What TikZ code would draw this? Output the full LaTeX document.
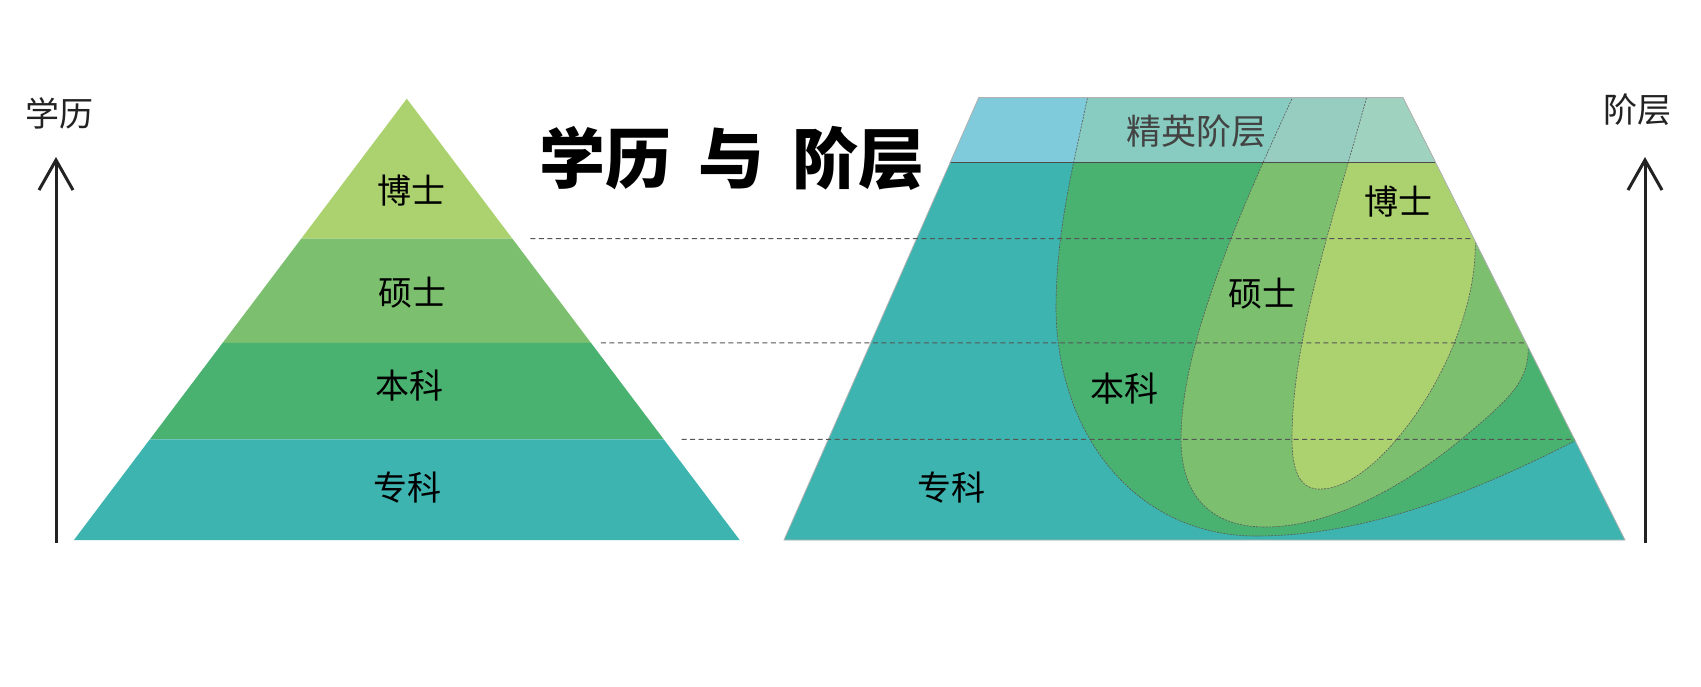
\documentclass[tikz,border=0pt]{standalone}
\usepackage{fontspec}
\newfontfamily\cjk{Noto Sans CJK SC}
\usetikzlibrary{calc,arrows.meta}
\definecolor{bsC}{HTML}{ACD270}
\definecolor{ssC}{HTML}{7BBF6F}
\definecolor{bkC}{HTML}{4AB270}
\definecolor{zkC}{HTML}{3DB4AF}
\definecolor{bsT}{HTML}{A0D2C0}
\definecolor{ssT}{HTML}{96CDC0}
\definecolor{bkT}{HTML}{88CBC0}
\definecolor{zkT}{HTML}{80CBDB}
\definecolor{inkC}{HTML}{222222}
\definecolor{guideC}{HTML}{555555}
\newcommand{\bkcurve}{(1093,70) .. controls (1078,150) and (1056,220) .. (1056,310) .. controls (1058,440) and (1140,536) .. (1256,536) .. controls (1380,536) and (1500,480) .. (1600,428)}
\newcommand{\sscurve}{(1305,70) .. controls (1260,170) and (1181,330) .. (1181,439) .. controls (1181,500) and (1215,527) .. (1265,527) .. controls (1340,527) and (1420,475) .. (1470,432) .. controls (1510,398) and (1530,380) .. (1528,345) -- (1560,300)}
\newcommand{\bscurve}{(1374,70) .. controls (1340,200) and (1292,330) .. (1292,439) .. controls (1292,480) and (1305,490) .. (1322,489) .. controls (1380,487) and (1470,360) .. (1475,255) .. controls (1476,230) .. (1470,215) -- (1480,190)}
\begin{document}
\begin{tikzpicture}[x=1pt,y=-1pt,
  lbl/.style={font=\cjk\fontsize{34}{34}\selectfont, text=black, inner sep=0pt},
  axislbl/.style={font=\cjk\fontsize{34}{34}\selectfont, text=inkC, inner sep=0pt},
  axisarrow/.style={draw=inkC, line width=3pt, -{Straight Barb[length=30pt,width=34pt,line width=3pt]}},
  guide/.style={draw=guideC, line width=1pt, dash pattern=on 5pt off 3.5pt},
  bound/.style={draw=black!65, line width=0.6pt, dash pattern=on 2pt off 1.2pt},
]
\fill[white] (0,0) rectangle (1701,686);
\useasboundingbox (0,0) rectangle (1701,686);

% axes
\coordinate (axL0) at (56,543);
\coordinate (axL1) at (56,157);
\coordinate (axR0) at (1645,543);
\coordinate (axR1) at (1645,157);
\draw[axisarrow] (axL0) -- (axL1);
\draw[axisarrow] (axR0) -- (axR1);
\node[axislbl] (xueli) at (59.5,113) {学历};
\node[axislbl] (jieceng) at (1637,110) {阶层};

% left pyramid
\coordinate (pA) at (406.8,98.7);
\coordinate (pL) at (73.8,540.2);
\coordinate (pR) at (739.8,540.2);
\coordinate (pL1) at ($(pA)!0.3171!(pL)$);
\coordinate (pR1) at ($(pA)!0.3171!(pR)$);
\coordinate (pL2) at ($(pA)!0.5529!(pL)$);
\coordinate (pR2) at ($(pA)!0.5529!(pR)$);
\coordinate (pL3) at ($(pA)!0.7715!(pL)$);
\coordinate (pR3) at ($(pA)!0.7715!(pR)$);
\fill[bsC] (pA) -- (pL1) -- (pR1) -- cycle;
\fill[ssC] (pL1) -- (pL2) -- (pR2) -- (pR1) -- cycle;
\fill[bkC] (pL2) -- (pL3) -- (pR3) -- (pR2) -- cycle;
\fill[zkC] (pL3) -- (pL) -- (pR) -- (pR3) -- cycle;

% right trapezoid
\coordinate (tTL) at (978.7,97.6);
\coordinate (tTR) at (1403,97.6);
\coordinate (tBR) at (1625,540);
\coordinate (tBL) at (784,540);
\coordinate (tML) at ($(tTL)!0.1472!(tBL)$);
\coordinate (tMR) at ($(tTR)!0.1472!(tBR)$);
\coordinate (tR1) at ($(tTR)!0.3189!(tBR)$);
\coordinate (tR2) at ($(tTR)!0.5542!(tBR)$);
\coordinate (tR3) at ($(tTR)!0.7724!(tBR)$);
\begin{scope}
  \clip (tTL) -- (tTR) -- (tBR) -- (tBL) -- cycle;
  \fill[zkC] (0,0) rectangle (1701,686);
  \fill[bkC] \bkcurve -- (1700,428) -- (1700,70) -- cycle;
  \fill[ssC] \sscurve -- (1700,300) -- (1700,70) -- cycle;
  \fill[bsC] \bscurve -- (1700,190) -- (1700,70) -- cycle;
  \begin{scope}
    \clip (0,97.6) rectangle (1701,162.7);
    \fill[zkT] (0,0) rectangle (1701,686);
    \fill[bkT] \bkcurve -- (1700,428) -- (1700,70) -- cycle;
    \fill[ssT] \sscurve -- (1700,300) -- (1700,70) -- cycle;
    \fill[bsT] \bscurve -- (1700,190) -- (1700,70) -- cycle;
  \end{scope}
  \draw[bound] \bkcurve;
  \draw[bound] \sscurve;
  \draw[bound] \bscurve;
\end{scope}
\draw[draw=black!70, line width=1.2pt] (tML) -- (tMR);
\draw[draw=gray!60, line width=0.8pt] (tTL) -- (tTR) -- (tBR) -- (tBL) -- cycle;

% guides
\coordinate (g1) at ($(pR1)+(18,0)$);
\coordinate (g2) at ($(pR2)+(10,0)$);
\coordinate (g3) at ($(pR3)+(18,0)$);
\draw[guide] (g1) -- (tR1);
\draw[guide] (g2) -- (tR2);
\draw[guide] (g3) -- (tR3);

% labels left
\node[lbl] (lbs) at (411,191) {博士};
\node[lbl] (lss) at (412,293) {硕士};
\node[lbl] (lbk) at (409,386) {本科};
\node[lbl] (lzk) at (407,488) {专科};
% labels right
\node[lbl] (rbs) at (1398,202) {博士};
\node[lbl] (rss) at (1262,294) {硕士};
\node[lbl] (rbk) at (1124,389) {本科};
\node[lbl] (rzk) at (951,488) {专科};
\node[lbl, text=inkC!85, font=\cjk\fontsize{35}{35}\selectfont] (elite) at (1196,131) {精英阶层};

% title
\node[inner sep=0pt, font=\cjk\bfseries\fontsize{66}{66}\selectfont] (title) at (732,158) {学历\hspace{28pt}与\hspace{28pt}阶层};
\end{tikzpicture}
\end{document}
